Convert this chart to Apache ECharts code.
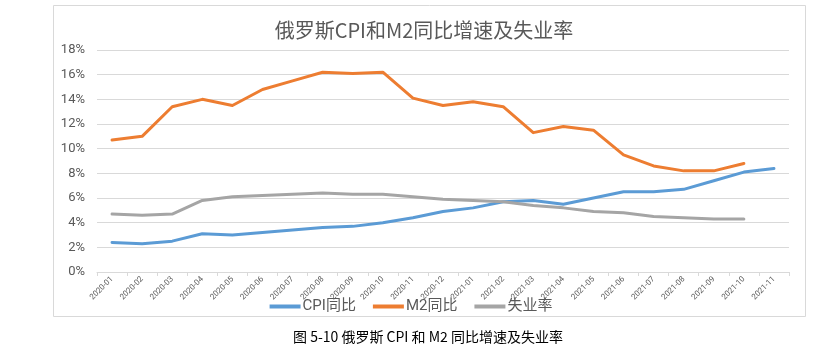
<!DOCTYPE html>
<html>
<head>
<meta charset="utf-8">
<script src="https://cdn.jsdelivr.net/npm/echarts@6/dist/echarts.min.js"></script>
<style>
  html, body { margin: 0; padding: 0; background: #fff; }
  #chart { width: 822px; height: 345px; }
</style>
</head>
<body>
<div id="chart"></div>
<script>
// Months 2020-01 .. 2021-11
const months = [
  '2020-01','2020-02','2020-03','2020-04','2020-05','2020-06','2020-07','2020-08',
  '2020-09','2020-10','2020-11','2020-12','2021-01','2021-02','2021-03','2021-04',
  '2021-05','2021-06','2021-07','2021-08','2021-09','2021-10','2021-11'
];
// CPI year-on-year (%)
const cpiYoY = [2.4, 2.3, 2.5, 3.1, 3.0, 3.2, 3.4, 3.6, 3.7, 4.0, 4.4, 4.9,
                5.2, 5.7, 5.8, 5.5, 6.0, 6.5, 6.5, 6.7, 7.4, 8.1, 8.4];
// M2 year-on-year (%)
const m2YoY = [10.7, 11.0, 13.4, 14.0, 13.5, 14.8, 15.5, 16.2, 16.1, 16.2, 14.1, 13.5,
               13.8, 13.4, 11.3, 11.8, 11.5, 9.5, 8.6, 8.2, 8.2, 8.8, null];
// Unemployment rate (%)
const unemployment = [4.7, 4.6, 4.7, 5.8, 6.1, 6.2, 6.3, 6.4, 6.3, 6.3, 6.1, 5.9,
                      5.8, 5.7, 5.4, 5.2, 4.9, 4.8, 4.5, 4.4, 4.3, 4.3, null];
const yTicks = { min: 0, max: 18, step: 2 };

const seriesNames = ['CPI同比', 'M2同比', '失业率'];
const seriesColors = ['#5B9BD5', '#ED7D31', '#A5A5A5'];
const seriesData = [cpiYoY, m2YoY, unemployment];

const chart = echarts.init(document.getElementById('chart'), null, { renderer: 'canvas' });

const textColor = '#595959';
const gridColor = '#D9D9D9';

chart.setOption({
  animation: false,
  backgroundColor: '#fff',
  textStyle: { fontFamily: 'Roboto, "Noto Sans CJK SC", sans-serif' },
  graphic: [
    {
      type: 'rect',
      shape: { x: 53.5, y: 5.5, width: 752, height: 311 },
      style: { fill: 'none', stroke: gridColor, lineWidth: 1 },
      z: -1
    },
    {
      type: 'text',
      x: 424, y: 30,
      style: {
        text: '俄罗斯CPI和M2同比增速及失业率',
        fill: textColor,
        font: 'normal 20px "Noto Sans CJK SC", sans-serif',
        textAlign: 'center',
        textVerticalAlign: 'middle'
      }
    },
    {
      type: 'text',
      x: 428, y: 337,
      style: {
        text: '图 5-10 俄罗斯 CPI 和 M2 同比增速及失业率',
        fill: '#000',
        font: 'normal 14px "Noto Sans CJK SC", sans-serif',
        textAlign: 'center',
        textVerticalAlign: 'middle'
      }
    }
  ],
  legend: {
    top: 294,
    left: 'center',
    icon: 'rect',
    itemWidth: 31,
    itemHeight: 4,
    itemGap: 17,
    textStyle: { color: textColor, fontSize: 15, padding: [0, 0, 0, -3] },
    data: seriesNames
  },
  grid: { left: 97, right: 33, top: 50, bottom: 73, containLabel: false },
  xAxis: {
    type: 'category',
    data: months,
    boundaryGap: true,
    axisLine: { lineStyle: { color: gridColor, width: 1 } },
    axisTick: { show: true, length: 4, lineStyle: { color: gridColor } },
    axisLabel: {
      interval: 0,
      rotate: 45,
      fontSize: 8,
      color: textColor,
      margin: 6
    }
  },
  yAxis: {
    type: 'value',
    min: yTicks.min,
    max: yTicks.max,
    interval: yTicks.step,
    axisLine: { show: false },
    axisTick: { show: false },
    splitLine: { lineStyle: { color: gridColor, width: 1 } },
    axisLabel: {
      formatter: '{value}%',
      color: textColor,
      fontSize: 13,
      margin: 12
    }
  },
  series: seriesNames.map((name, i) => ({
    name,
    type: 'line',
    data: seriesData[i],
    symbol: 'none',
    smooth: false,
    connectNulls: false,
    itemStyle: { color: seriesColors[i] },
    lineStyle: { color: seriesColors[i], width: 3, cap: 'round', join: 'round' }
  }))
});
</script>
</body>
</html>
